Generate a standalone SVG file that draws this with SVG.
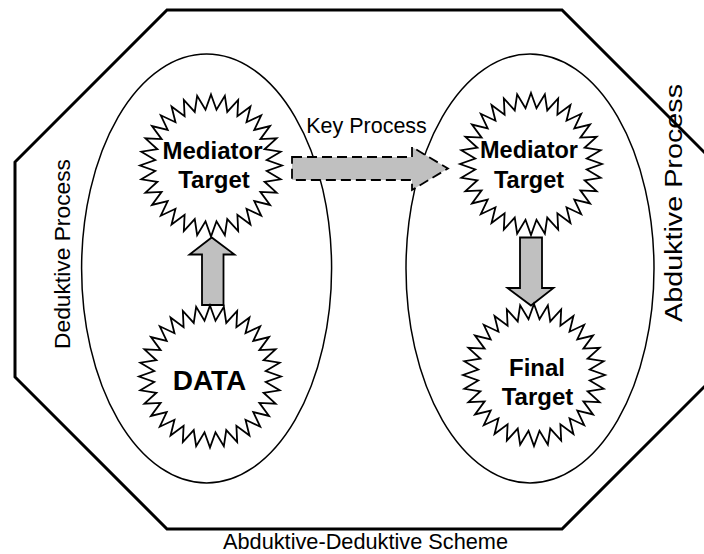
<svg xmlns="http://www.w3.org/2000/svg" xmlns:xlink="http://www.w3.org/1999/xlink" width="704" height="554" viewBox="0 0 704 554">
  <style>
    .frame { fill: #ffffff; stroke: #000000; stroke-width: 3; }
    .zone { fill: none; stroke: #000000; stroke-width: 1.5; }
    .star { fill: #ffffff; stroke: #000000; stroke-width: 1.8; stroke-linejoin: miter; }
    .arrow { fill: #c0c0c0; stroke: #000000; stroke-width: 1.8; stroke-linejoin: miter; }
    .dashed { stroke-dasharray: 10 5; }
    .bold { font-family: "Liberation Sans", Arial, sans-serif; font-weight: bold; fill: #000000; text-anchor: middle; }
    .label { font-family: "Liberation Sans", Arial, sans-serif; fill: #000000; text-anchor: middle; }
  </style>
  <defs>
    <!-- 32-point star, outer radius 71, inner radius 56 -->
    <path id="burst" d="M0,-71 L5.49,-55.73 L13.85,-69.64 L16.26,-53.59 L27.17,-65.6 L26.4,-49.39 L39.45,-59.03 L35.53,-43.29 L50.2,-50.2 L43.29,-35.53 L59.03,-39.45 L49.39,-26.4 L65.6,-27.17 L53.59,-16.26 L69.64,-13.85 L55.73,-5.49 L71,0 L55.73,5.49 L69.64,13.85 L53.59,16.26 L65.6,27.17 L49.39,26.4 L59.03,39.45 L43.29,35.53 L50.2,50.2 L35.53,43.29 L39.45,59.03 L26.4,49.39 L27.17,65.6 L16.26,53.59 L13.85,69.64 L5.49,55.73 L0,71 L-5.49,55.73 L-13.85,69.64 L-16.26,53.59 L-27.17,65.6 L-26.4,49.39 L-39.45,59.03 L-35.53,43.29 L-50.2,50.2 L-43.29,35.53 L-59.03,39.45 L-49.39,26.4 L-65.6,27.17 L-53.59,16.26 L-69.64,13.85 L-55.73,5.49 L-71,0 L-55.73,-5.49 L-69.64,-13.85 L-53.59,-16.26 L-65.6,-27.17 L-49.39,-26.4 L-59.03,-39.45 L-43.29,-35.53 L-50.2,-50.2 L-35.53,-43.29 L-39.45,-59.03 L-26.4,-49.39 L-27.17,-65.6 L-16.26,-53.59 L-13.85,-69.64 L-5.49,-55.73 Z"/>
  </defs>

  <rect x="0" y="0" width="704" height="554" fill="#ffffff"/>

  <!-- outer scheme frame -->
  <g id="scheme">
    <polygon class="frame" points="167,10 562,10 714,162 714,377 562,529 167,529 15,377 15,162"/>
    <text class="label" x="365.5" y="549" font-size="21.5" textLength="285" lengthAdjust="spacingAndGlyphs">Abduktive-Deduktive Scheme</text>
  </g>

  <!-- deductive zone -->
  <g id="deductive-zone">
    <ellipse class="zone" cx="206.6" cy="268.5" rx="125" ry="214.5"/>
    <text class="label" transform="translate(69.5,254) rotate(-90)" font-size="22.5" textLength="190" lengthAdjust="spacingAndGlyphs">Deduktive Process</text>
  </g>

  <!-- abductive zone -->
  <g id="abductive-zone">
    <ellipse class="zone" cx="530" cy="268.5" rx="124" ry="214.5"/>
    <text class="label" transform="translate(682,203) rotate(-90)" font-size="23.5" textLength="238" lengthAdjust="spacingAndGlyphs">Abduktive Process</text>
  </g>

  <!-- connectors -->
  <g id="connectors">
    <!-- DATA up to mediator target -->
    <polygon class="arrow" points="202,305 202,254.5 189.5,254.5 211.7,237.5 234.5,254.5 223.5,254.5 223.5,305"/>
    <!-- mediator target down to final target -->
    <polygon class="arrow" points="520,237.5 542,237.5 542,288 553.5,288 531,305.5 507.5,288 520,288"/>
    <!-- key process, dashed -->
    <polygon class="arrow dashed" points="292,157 412,157 412,147 448,168.5 412,190 412,180 292,180"/>
    <text class="label" x="366.5" y="133" font-size="21.5">Key Process</text>
  </g>

  <g id="mediator-left">
    <use xlink:href="#burst" class="star" transform="translate(211,165.5)"/>
    <text class="bold" x="212.5" y="159" font-size="24">Mediator</text>
    <text class="bold" x="214" y="188" font-size="24">Target</text>
  </g>

  <g id="data">
    <use xlink:href="#burst" class="star" transform="translate(210,376.5)"/>
    <text class="bold" x="209.5" y="390" font-size="28">DATA</text>
  </g>

  <g id="mediator-right">
    <use xlink:href="#burst" class="star" transform="translate(531,164)"/>
    <text class="bold" x="529" y="158" font-size="23.5">Mediator</text>
    <text class="bold" x="529" y="188" font-size="23.5">Target</text>
  </g>

  <g id="final-target">
    <use xlink:href="#burst" class="star" transform="translate(534,375)"/>
    <text class="bold" x="537" y="376" font-size="24">Final</text>
    <text class="bold" x="537.5" y="405" font-size="24">Target</text>
  </g>
</svg>
